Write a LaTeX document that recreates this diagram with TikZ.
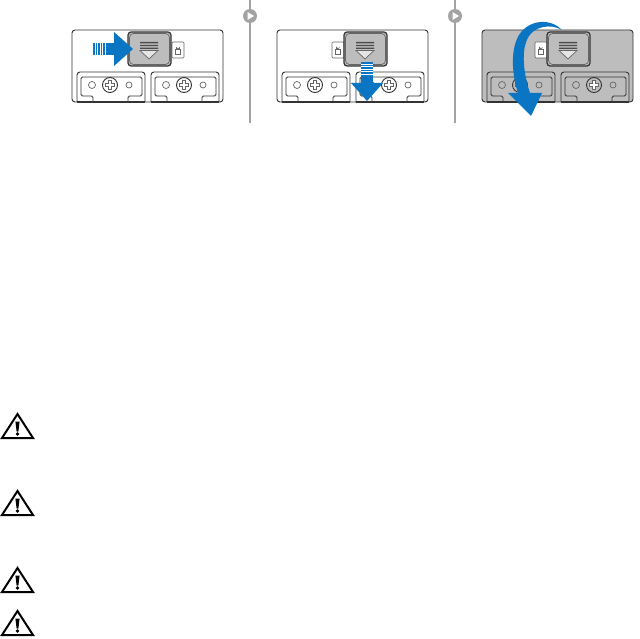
\documentclass[tikz,border=0pt]{standalone}
\usepackage{xcolor}
\usetikzlibrary{positioning}
\definecolor{dellblue}{HTML}{0A75C2}
\definecolor{latchgray}{HTML}{BDBDBD}
\definecolor{dividergray}{HTML}{A3A3A3}

\begin{document}
\begin{tikzpicture}[
    x=1pt, y=-1pt,
    outline/.style={draw=black!80, line width=0.9pt},
    thinline/.style={draw=black!60, line width=0.7pt},
    latchbox/.style={outline, rounded corners=3pt, line width=1.2pt},
    bluearrow/.style={fill=dellblue, draw=none},
    divider/.style={draw=dividergray, line width=1.6pt},
    pics/faceplate/.style={code={
        \path[outline, rounded corners=3pt, fill=#1] (0,72) -- (0,0) -- (151,0) -- (151,72) -- cycle;
    }},
    pics/screwplate/.style={code={
        % outer contour, inner recess, holes and screw
        \draw[outline, rounded corners=3pt] (0,30) -- (0,0) -- (68,0) -- (68,30);
        \draw[outline, rounded corners=1.5pt] (16,30) -- (16,24) -- (4,24) -- (4,5) -- (65,5) -- (65,24) -- (51,24) -- (51,30);
        \draw[outline, line width=1.3pt] (0,30) -- (68,30);
        \draw[thinline] (15,13) circle (3.5);
        \draw[thinline] (52,13) circle (3);
        \draw[outline] (33,13) circle (7.5);
        \draw[thinline, fill=white] (31.5,8.5) -- (34.5,8.5) -- (34.5,11.5) -- (37.5,11.5) -- (37.5,14.5) -- (34.5,14.5) -- (34.5,17.5) -- (31.5,17.5) -- (31.5,14.5) -- (28.5,14.5) -- (28.5,11.5) -- (31.5,11.5) -- cycle;
    }},
    pics/latch/.style={code={
        \draw[latchbox, fill=#1] (0,0) rectangle (43,34);
        \draw[thinline, rounded corners=4pt] (1.5,1.5) rectangle (41.5,32.5);
        \fill[black!70] (12,10) rectangle (30,11.4) (12,12.8) rectangle (30,14.2) (12,15.6) rectangle (30,17);
        \draw[thinline, fill=latchgray!40] (12,18.5) -- (30,18.5) -- (21,27) -- cycle;
    }},
    pics/padlock/.style={code={
        \draw[thinline, fill=white, rounded corners=1pt] (0,0) rectangle (12,16);
        \draw[thinline] (3.5,7.5) rectangle (8.5,12);
        \draw[thinline] (4.5,7.5) -- (4.5,5.5) arc[start angle=180, end angle=0, radius=1.5] #1;
    }},
    pics/warning/.style={code={
        \draw[line width=2pt, line join=miter, fill=white] (16.5,2) -- (32,26) -- (1,26) -- cycle;
        \fill (14.4,9.5) -- (18.6,9.5) -- (17.4,19.5) -- (15.6,19.5) -- cycle;
        \fill (16.5,22) circle (1.9);
    }}
]
    \useasboundingbox (0,0) rectangle (640,639);

    % dividers
    \foreach \dx/\name in {250/dividerA, 455/dividerB} {
        \draw[divider] (\dx,0) -- (\dx,123);
        \node[circle, fill=dividergray, minimum size=14pt, inner sep=0pt] (\name) at (\dx,16) {};
        \fill[white] (\dx-2.5,12) -- (\dx+4,16) -- (\dx-2.5,20) -- cycle;
    }

    % panels
    \pic at (72,30) {faceplate=white};
    \pic at (277,30) {faceplate=white};
    \pic at (482,30) {faceplate=latchgray};
    \foreach \px in {77,151,282,356,487,561} {
        \pic at (\px,72) {screwplate};
    }

    % locked, then unlocked, then opened
    \pic at (172,42) {padlock={-- ++(0,2)}};
    \pic at (128,32) {latch=latchgray};
    \pic at (332,42) {padlock={}};
    \pic at (344,32) {latch=latchgray};
    \pic at (535,42) {padlock={}};
    \pic at (547,32) {latch=latchgray};

    % arrows
    \path[bluearrow] (114,32) -- (133,49) -- (114,66) -- cycle;
    \path[bluearrow] (93,43) rectangle (114.5,55);
    \foreach \sx in {95,97.4,99.8,102.2,104.6} {
        \fill[white] (\sx,43) rectangle (\sx+0.7,55);
    }
    \path[bluearrow] (351,83) -- (383,83) -- (367,101) -- cycle;
    \path[bluearrow] (361,62) rectangle (373,83.5);
    \foreach \sy in {64,66.4,68.8,71.2,73.6} {
        \fill[white] (361,\sy) rectangle (373,\sy+0.7);
    }
    \path[bluearrow] (562,30) .. controls (552,19) and (530,18) .. (519,35)
        .. controls (510,50) and (512,75) .. (518,93) -- (508,93) -- (531,116) -- (542,93) -- (530,93)
        .. controls (524,75) and (520,50) .. (529,36)
        .. controls (535,27) and (550,23) .. (562,30) -- cycle;

    % warnings
    \foreach \wy in {412,489,566,609} {
        \pic at (1,\wy) {warning};
    }
\end{tikzpicture}
\end{document}
